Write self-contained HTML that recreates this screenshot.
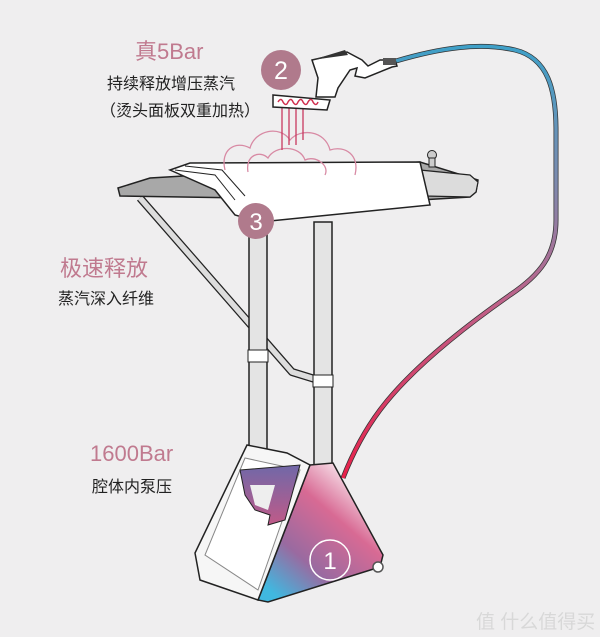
<!DOCTYPE html>
<html><head><meta charset="utf-8"><style>
html,body{margin:0;padding:0;background:#efeeef;}
svg{display:block}
text{font-family:"Liberation Sans","Noto Sans CJK SC",sans-serif}
</style></head><body>
<svg width="600" height="637" viewBox="0 0 600 637" xmlns="http://www.w3.org/2000/svg">
<defs>
<linearGradient id="hose" x1="0" y1="0" x2="0" y2="1">
<stop offset="0" stop-color="#3fa0c8"/><stop offset="0.3" stop-color="#7a8cb0"/><stop offset="0.6" stop-color="#c06088"/><stop offset="1" stop-color="#e8204a"/></linearGradient>
<linearGradient id="base" x1="0.9" y1="0.1" x2="0.2" y2="1">
<stop offset="0" stop-color="#fff"/><stop offset="0.35" stop-color="#d86a94"/><stop offset="0.7" stop-color="#9a6aa0"/><stop offset="1" stop-color="#40b8e0"/></linearGradient>
<linearGradient id="tank" x1="0" y1="0" x2="0" y2="1">
<stop offset="0" stop-color="#7068a8"/><stop offset="1" stop-color="#c05a88"/></linearGradient>
</defs>
<rect width="600" height="637" fill="#efeeef"/>
<!-- hose -->
<path d="M396,61 C440,48 480,42 515,50 C548,58 556,90 556,130 L556,220 C556,255 540,275 510,295 C460,330 410,370 380,410 C365,430 352,455 343,478" fill="none" stroke="#333" stroke-width="5"/>
<path d="M396,61 C440,48 480,42 515,50 C548,58 556,90 556,130 L556,220 C556,255 540,275 510,295 C460,330 410,370 380,410 C365,430 352,455 343,478" fill="none" stroke="url(#hose)" stroke-width="3.5"/>
<!-- strut -->
<path d="M140,198 L292,372 L318,380" fill="none" stroke="#222" stroke-width="8" stroke-linejoin="round"/>
<path d="M140,198 L292,372 L318,380" fill="none" stroke="#ddd" stroke-width="5.5" stroke-linejoin="round"/>
<!-- poles -->
<rect x="249" y="222" width="18" height="270" fill="#e4e4e4" stroke="#222" stroke-width="1.5"/>
<rect x="314" y="222" width="18" height="250" fill="#e4e4e4" stroke="#222" stroke-width="1.5"/>
<rect x="248" y="350" width="20" height="12" fill="#fff" stroke="#222" stroke-width="1"/>
<rect x="313" y="375" width="20" height="12" fill="#fff" stroke="#222" stroke-width="1"/>
<!-- board -->
<path d="M118,188 L150,178 L420,162 L478,180 L476,192 L470,197 L420,200 L245,198 L120,196 Z" fill="#a8a8a8" stroke="#222" stroke-width="1.5"/>
<path d="M420,170 L470,175 L478,182 L476,192 L470,197 L425,196 Z" fill="#dcdcdc" stroke="#222" stroke-width="1.2"/>
<circle cx="432" cy="155" r="4.5" fill="#ccc" stroke="#222"/>
<rect x="429" y="158" width="6" height="9" fill="#ccc" stroke="#222"/>
<path d="M170,170 L190,163 L420,162 L430,205 L260,222 L235,215 L215,190 Z" fill="#fff" stroke="#222" stroke-width="1.5"/>
<path d="M175,170 L215,175 L235,200 M185,166 L222,170 L245,196" fill="none" stroke="#222" stroke-width="1"/>
<!-- steam -->
<g fill="none" stroke="#d88aa4" stroke-width="1.3">
<path d="M225,170 C220,150 235,140 250,148 C255,130 280,125 290,140 C300,128 325,130 330,150 C345,145 360,155 355,175"/>
<path d="M248,172 C245,155 260,150 268,158 C275,145 300,145 305,160 C315,155 330,165 325,175"/>
<path d="M282,108 L282,150 M289,108 L289,145 M296,108 L296,145 M303,108 L303,140" stroke="#c8385f"/>
</g>
<!-- steam head -->
<path d="M312,60 L347,52 L362,60 L368,66 L380,60 L395,60 L397,66 L392,67 L365,78 L355,76 L357,68 L350,70 L338,88 L335,97 L316,97 L318,78 Z" fill="#fff" stroke="#222" stroke-width="1.5"/>
<path d="M312,60 L345,50 L348,55 Z" fill="#333"/>
<rect x="383" y="58" width="13" height="7" fill="#555"/>
<path d="M273,95 L330,100 L327,110 L273,107 Z" fill="#fff" stroke="#222" stroke-width="1.5"/>
<path d="M278,102 q3,-5 5,0 q3,5 5,0 q3,-5 5,0 q3,5 5,0 q3,-5 5,0 q3,5 5,0 q3,-5 5,0 q3,5 5,0" fill="none" stroke="#d0304f" stroke-width="1.5"/>
<!-- circles -->
<circle cx="281" cy="70" r="20" fill="#b07a8c"/>
<text x="281" y="79" font-size="25" fill="#fff" text-anchor="middle">2</text>
<circle cx="256" cy="221" r="18" fill="#b07a8c"/>
<text x="256" y="230" font-size="24" fill="#fff" text-anchor="middle">3</text>
<!-- base -->
<path d="M310,465 L333,463 L383,555 L380,567 L268,602 L258,600 Z" fill="url(#base)" stroke="#222" stroke-width="1.5"/>
<path d="M247,445 L287,453 L310,465 L258,600 L200,580 L195,553 Z" fill="#f6f6f6" stroke="#222" stroke-width="1.5"/>
<path d="M205,555 L245,458 L300,470 L258,590 Z" fill="#fff" stroke="#888" stroke-width="1"/>
<path d="M240,470 L300,465 L285,520 L268,525 L270,515 L255,510 L245,495 Z" fill="url(#tank)" stroke="#222" stroke-width="1"/>
<path d="M250,485 L275,485 L268,510 L255,505 Z" fill="#eee"/>
<circle cx="330" cy="560" r="20" fill="none" stroke="#fff" stroke-width="1.5"/>
<text x="330" y="569" font-size="24" fill="#fff" text-anchor="middle">1</text>
<circle cx="378" cy="567" r="5" fill="#fff" stroke="#555" stroke-width="1.5"/>
<!-- labels -->
<g fill="#c07a8f" font-size="22">
<text x="135" y="59">真5Bar</text>
<text x="60" y="276">极速释放</text>
<text x="90" y="461">1600Bar</text>
</g>
<g fill="#222" font-size="16">
<text x="107" y="89">持续释放增压蒸汽</text>
<text x="100" y="116">（烫头面板双重加热）</text>
<text x="58" y="304">蒸汽深入纤维</text>
<text x="92" y="492">腔体内泵压</text>
</g>
<text x="476" y="628" font-size="19" fill="#d8d8d8">值 什么值得买</text>
</svg>
</body></html>
